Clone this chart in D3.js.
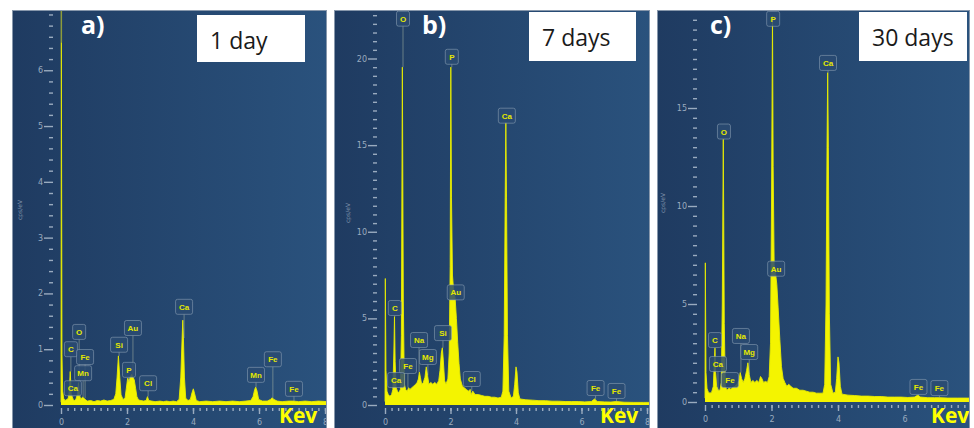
<!DOCTYPE html>
<html>
<head>
<meta charset="utf-8">
<script src="https://cdn.jsdelivr.net/npm/d3@7"></script>
<style>
  body{margin:0;background:#fff;}
</style>
</head>
<body>
<div id="eds"></div>
<script>
const W = 974, H = 428;

// EDS spectra, [keV, cps/eV]
const spec1day = [[0.00,0.05],[0.01,6.5],[0.03,0.9],[0.05,0.25],[0.08,0.12],[0.12,0.08],[0.18,0.10],[0.22,0.12],[0.25,0.25],[0.28,0.60],[0.31,0.20],[0.34,0.15],[0.37,0.10],[0.40,0.08],[0.45,0.10],[0.50,0.20],[0.53,0.40],[0.56,0.18],[0.60,0.10],[0.65,0.14],[0.70,0.12],[0.75,0.09],[0.80,0.07],[0.90,0.08],[1.00,0.06],[1.10,0.08],[1.20,0.07],[1.30,0.09],[1.40,0.07],[1.50,0.08],[1.60,0.10],[1.66,0.20],[1.70,0.50],[1.74,0.88],[1.78,0.50],[1.82,0.18],[1.88,0.10],[1.94,0.12],[1.98,0.30],[2.02,0.48],[2.06,0.42],[2.10,0.50],[2.14,0.55],[2.18,0.50],[2.22,0.45],[2.26,0.30],[2.30,0.15],[2.35,0.09],[2.42,0.08],[2.50,0.07],[2.58,0.08],[2.62,0.15],[2.66,0.08],[2.75,0.07],[2.85,0.06],[3.00,0.07],[3.10,0.06],[3.20,0.07],[3.30,0.06],[3.40,0.07],[3.50,0.06],[3.58,0.10],[3.63,0.50],[3.67,1.20],[3.69,1.52],[3.71,1.20],[3.74,0.50],[3.78,0.12],[3.85,0.08],[3.92,0.10],[3.97,0.22],[4.01,0.29],[4.05,0.20],[4.10,0.08],[4.20,0.06],[4.40,0.07],[4.60,0.06],[4.80,0.07],[5.00,0.06],[5.20,0.07],[5.40,0.06],[5.60,0.07],[5.75,0.08],[5.82,0.15],[5.87,0.28],[5.90,0.32],[5.94,0.25],[5.99,0.10],[6.10,0.07],[6.25,0.07],[6.35,0.10],[6.40,0.13],[6.45,0.10],[6.55,0.07],[6.70,0.06],[6.90,0.07],[7.05,0.07],[7.20,0.06],[7.40,0.07],[7.60,0.06],[7.80,0.07],[8.10,0.06]];

const spec7days = [[0.00,0.2],[0.01,7.3],[0.03,2.0],[0.06,0.8],[0.10,0.6],[0.15,0.5],[0.20,0.6],[0.24,0.9],[0.27,3.0],[0.29,5.1],[0.31,2.5],[0.34,1.0],[0.38,0.8],[0.42,0.7],[0.47,0.9],[0.50,4.0],[0.53,19.5],[0.56,6.0],[0.59,1.2],[0.63,0.9],[0.68,0.8],[0.72,1.0],[0.76,0.9],[0.82,1.0],[0.88,1.1],[0.94,1.2],[0.98,1.3],[1.02,1.5],[1.05,1.9],[1.08,1.6],[1.12,1.2],[1.17,1.3],[1.22,1.6],[1.26,2.2],[1.30,1.7],[1.34,1.2],[1.40,1.3],[1.46,1.2],[1.52,1.3],[1.58,1.2],[1.64,1.4],[1.68,2.0],[1.72,3.0],[1.75,3.3],[1.78,2.6],[1.82,1.4],[1.86,1.2],[1.92,1.5],[1.96,3.0],[1.99,8.0],[2.01,19.5],[2.03,12.0],[2.06,7.5],[2.10,6.5],[2.14,6.2],[2.18,5.0],[2.22,3.6],[2.26,2.4],[2.30,1.5],[2.36,1.1],[2.42,1.0],[2.48,0.9],[2.55,0.8],[2.60,0.9],[2.63,0.6],[2.68,0.8],[2.75,0.6],[2.85,0.6],[2.95,0.55],[3.05,0.5],[3.15,0.5],[3.25,0.45],[3.35,0.45],[3.45,0.4],[3.55,0.45],[3.60,0.8],[3.64,4.0],[3.67,12.0],[3.69,16.3],[3.71,12.0],[3.74,4.0],[3.78,0.8],[3.85,0.4],[3.92,0.5],[3.96,1.2],[4.00,2.2],[4.03,1.9],[4.07,0.7],[4.12,0.35],[4.30,0.3],[4.50,0.28],[4.70,0.25],[4.90,0.25],[5.10,0.22],[5.30,0.22],[5.50,0.2],[5.70,0.2],[5.90,0.2],[6.10,0.18],[6.30,0.2],[6.40,0.35],[6.48,0.2],[6.70,0.18],[6.90,0.17],[7.06,0.2],[7.30,0.16],[7.60,0.15],[7.90,0.15],[8.10,0.15]];

const spec30days = [[0.00,0.2],[0.01,7.1],[0.03,1.5],[0.06,0.7],[0.10,0.5],[0.15,0.45],[0.20,0.5],[0.25,0.8],[0.28,2.0],[0.30,2.75],[0.32,1.5],[0.35,0.8],[0.40,0.6],[0.45,0.6],[0.49,1.0],[0.52,5.0],[0.55,13.4],[0.58,4.0],[0.61,0.8],[0.66,0.6],[0.72,0.7],[0.78,0.65],[0.84,0.75],[0.90,0.8],[0.96,0.9],[1.02,1.1],[1.06,1.5],[1.10,1.2],[1.15,1.0],[1.20,1.2],[1.25,1.6],[1.29,2.0],[1.33,1.4],[1.38,1.0],[1.44,1.1],[1.50,1.0],[1.56,1.1],[1.62,1.0],[1.67,1.3],[1.71,1.2],[1.76,1.0],[1.82,1.05],[1.88,1.0],[1.93,1.3],[1.97,3.0],[2.00,10.0],[2.03,19.7],[2.05,12.0],[2.08,7.0],[2.12,6.6],[2.16,6.0],[2.20,4.8],[2.25,3.2],[2.30,1.8],[2.35,1.2],[2.40,1.0],[2.46,0.8],[2.52,0.9],[2.58,0.8],[2.65,0.7],[2.75,0.7],[2.85,0.6],[2.95,0.6],[3.05,0.55],[3.15,0.5],[3.25,0.5],[3.35,0.45],[3.45,0.45],[3.55,0.45],[3.60,0.9],[3.64,5.0],[3.67,13.0],[3.69,16.8],[3.71,13.0],[3.74,4.5],[3.78,0.9],[3.85,0.45],[3.92,0.5],[3.96,1.2],[4.00,2.3],[4.03,2.0],[4.07,0.8],[4.12,0.4],[4.30,0.35],[4.50,0.33],[4.70,0.3],[4.90,0.3],[5.10,0.28],[5.30,0.28],[5.50,0.25],[5.70,0.25],[5.90,0.25],[6.10,0.23],[6.30,0.25],[6.40,0.35],[6.48,0.25],[6.70,0.22],[6.90,0.22],[7.06,0.22],[7.30,0.2],[7.60,0.2],[7.90,0.2],[8.10,0.2]];

// peak labels: [element, keV, height of the label box in cps/eV]
const labels1day = [["C",0.30,1.00],["O",0.55,1.31],["Fe",0.73,0.86],["Mn",0.67,0.57],["Ca",0.36,0.30],["Si",1.76,1.08],["Au",2.18,1.38],["P",2.06,0.63],["Cl",2.64,0.39],["Ca",3.73,1.76],["Mn",5.91,0.54],["Fe",6.42,0.82],["Fe",7.06,0.29]];
const labels7days = [["O",0.55,22.3],["P",2.04,20.1],["Ca",3.72,16.7],["C",0.30,5.6],["Au",2.16,6.5],["Na",1.04,3.75],["Si",1.77,4.15],["Mg",1.31,2.77],["Fe",0.70,2.25],["Ca",0.34,1.44],["Cl",2.65,1.5],["Fe",6.43,0.98],["Fe",7.07,0.81]];
const labels30days = [["P",2.05,19.55],["Ca",3.70,17.3],["O",0.57,13.8],["Au",2.14,6.8],["C",0.30,3.16],["Na",1.08,3.37],["Mg",1.33,2.55],["Ca",0.39,1.94],["Fe",0.75,1.12],["Fe",6.42,0.77],["Fe",7.05,0.71]];

const ticks1day = [0,1,2,3,4,5,6];
const ticks7days = [0,5,10,15,20];
const ticks30days = [0,5,10,15];
const keVTicks = [0,2,4,6,8];
const tags = ["a)","b)","c)"];
const times = ["1 day","7 days","30 days"];

// panel layout
const panels = [
  {left:12, right:327, x0:61, x8:325, y0:405, yMax:7.08, yMinor:0.2, spec:spec1day, labels:labels1day, ticks:ticks1day, box:[197,15,108,47], tagX:81, kevX:279, cps:[22,210], strobe:true},
  {left:334, right:650, x0:385, x8:647, y0:405, yMax:22.8, yMinor:0.5, spec:spec7days, labels:labels7days, ticks:ticks7days, box:[529,12,107,49], tagX:422, kevX:600, cps:[350,213]},
  {left:657, right:970, x0:705, x8:971, y0:402, yMax:20, yMinor:0.5, spec:spec30days, labels:labels30days, ticks:ticks30days, box:[859,12,108,49], tagX:710, kevX:931, cps:[665,203]}
];

const svg = d3.select("#eds").append("svg")
  .attr("width",W)
  .attr("height",H)
  .style("display","block")

const defs = svg.append("defs")
const grad = defs.append("linearGradient").attr("id","bg").attr("x1",0).attr("x2",1).attr("y1",0).attr("y2",0)
grad.append("stop").attr("offset",0).attr("stop-color","#1f3b61")
grad.append("stop").attr("offset",1).attr("stop-color","#2a527d")

const axisColor = "#9aabbf"

panels.forEach((p,i)=>{

  defs.append("clipPath").attr("id","panel"+i)
    .append("rect").attr("x",p.left).attr("y",10).attr("width",p.right-p.left).attr("height",H-10)

  const g = svg.append("g").attr("clip-path",`url(#panel${i})`)

  g.append("rect")
    .attr("x",p.left).attr("y",10)
    .attr("width",p.right-p.left).attr("height",H-10)
    .attr("fill","url(#bg)")

  const x = d3.scaleLinear().domain([0,8]).range([p.x0,p.x8])
  const y = d3.scaleLinear().domain([0,p.yMax]).range([p.y0,10])

  // Y axis, major + minor
  const yMajor = g.append("g")
    .attr("transform",`translate(${p.x0-8},0)`)
    .call(d3.axisLeft(y).tickValues(p.ticks).tickSize(9).tickPadding(1).tickFormat(d3.format("d")))
  const minorY = d3.range(0,p.yMax,p.yMinor).filter(v=>!p.ticks.some(t=>Math.abs(t-v)<1e-6))
  const yMin = g.append("g")
    .attr("transform",`translate(${p.x0-8},0)`)
    .call(d3.axisLeft(y).tickValues(minorY).tickSize(4).tickFormat(""))

  // X axis, major + minor (a tick label hidden under the Kev text is skipped)
  const xMajor = g.append("g")
    .attr("transform",`translate(0,${p.y0+3})`)
    .call(d3.axisBottom(x).tickValues(keVTicks).tickSize(6).tickPadding(5)
      .tickFormat(d=> x(d) > p.kevX-4 && x(d) < p.kevX+44 ? "" : d))
  const xMin = g.append("g")
    .attr("transform",`translate(0,${p.y0+3})`)
    .call(d3.axisBottom(x).tickValues(d3.range(0.2,8.1,0.2)).tickSize(3).tickFormat(""))

  ;[yMajor,yMin,xMajor,xMin].forEach(a=>{
    a.select(".domain").remove()
    a.selectAll("line").attr("stroke",axisColor).attr("stroke-width",1.4)
    a.selectAll("text").attr("fill",axisColor).style("font-family","DejaVu Sans").style("font-size","8px")
  })

  g.append("text")
    .attr("transform",`translate(${p.cps[0]},${p.cps[1]})rotate(-90)`)
    .attr("text-anchor","middle")
    .text("cps/eV")
    .attr("fill","#7f93ab")
    .style("font-family","DejaVu Sans")
    .style("font-size","6px")

  // spectrum
  const plot = g.append("g")
  defs.append("clipPath").attr("id","plot"+i)
    .append("rect").attr("x",p.x0-2).attr("y",10).attr("width",p.right-p.x0+2).attr("height",p.y0-9)
  plot.attr("clip-path",`url(#plot${i})`)

  plot.append("path")
    .datum(p.spec)
    .attr("d",d3.area().x(d=>x(d[0])).y0(p.y0).y1(d=>y(d[1])))
    .attr("fill","#f4f400")
  plot.append("path")
    .datum(p.spec)
    .attr("d",d3.line().x(d=>x(d[0])).y(d=>y(d[1])))
    .attr("fill","none")
    .attr("stroke","#e8ec00")
    .attr("stroke-width",0.9)

  if(p.strobe){
    const top = d3.max(p.spec,d=>d[1])
    const k = p.spec.find(d=>d[1]===top)[0]
    plot.append("line")
      .attr("x1",x(k)).attr("x2",x(k))
      .attr("y1",y(top)).attr("y2",10)
      .attr("stroke","#8e9c3a").attr("stroke-width",1.5)
  }

  // peak labels
  const lab = g.selectAll(".lab").data(p.labels).enter().append("g")
  lab.each(function(d){
    const el = d3.select(this)
    const cx = x(d[1]), cy = y(d[2])
    const w = d[0].length==1 ? 13 : 17
    const near = p.spec.filter(s=>Math.abs(s[0]-d[1])<=0.04)
    const peak = near.length ? d3.max(near,s=>s[1]) : 0
    if(y(peak) > cy+7.5){
      el.append("line")
        .attr("x1",cx).attr("x2",cx)
        .attr("y1",cy+7.5).attr("y2",y(peak))
        .attr("stroke","#b8c2a8").attr("stroke-opacity",0.6).attr("stroke-width",0.8)
    }
    el.append("rect")
      .attr("x",cx-w/2).attr("y",cy-7.5)
      .attr("width",w).attr("height",15)
      .attr("rx",2)
      .attr("fill","#2a4b72").attr("fill-opacity",0.85)
      .attr("stroke","#8fa3b8").attr("stroke-opacity",0.7).attr("stroke-width",0.8)
    el.append("text")
      .attr("x",cx).attr("y",cy+3)
      .attr("text-anchor","middle")
      .text(d[0])
      .attr("fill","#e4e800")
      .style("font-family","Liberation Sans")
      .style("font-weight","bold")
      .style("font-size","8px")
  })

  // panel tag and time box
  g.append("text")
    .attr("x",p.tagX).attr("y",34)
    .text(tags[i])
    .attr("fill","#ffffff")
    .style("font-family","Open Sans")
    .style("font-weight","bold")
    .style("font-size","25px")

  g.append("rect")
    .attr("x",p.box[0]).attr("y",p.box[1])
    .attr("width",p.box[2]).attr("height",p.box[3])
    .attr("fill","#ffffff")
  g.append("text")
    .attr("x",p.box[0]+13).attr("y",p.box[1]+34)
    .text(times[i])
    .attr("fill","#1a1a1a")
    .style("font-family","Open Sans")
    .style("font-size","23px")

  g.append("text")
    .attr("x",p.kevX).attr("y",423)
    .text("Kev")
    .attr("fill","#ffff00")
    .style("font-family","Open Sans")
    .style("font-weight","bold")
    .style("font-size","21px")

  svg.append("rect")
    .attr("x",p.left+0.5).attr("y",10.5)
    .attr("width",p.right-p.left-1).attr("height",H-10)
    .attr("fill","none")
    .attr("stroke","#8797ab")
    .attr("stroke-width",1)
})
</script>
</body>
</html>
